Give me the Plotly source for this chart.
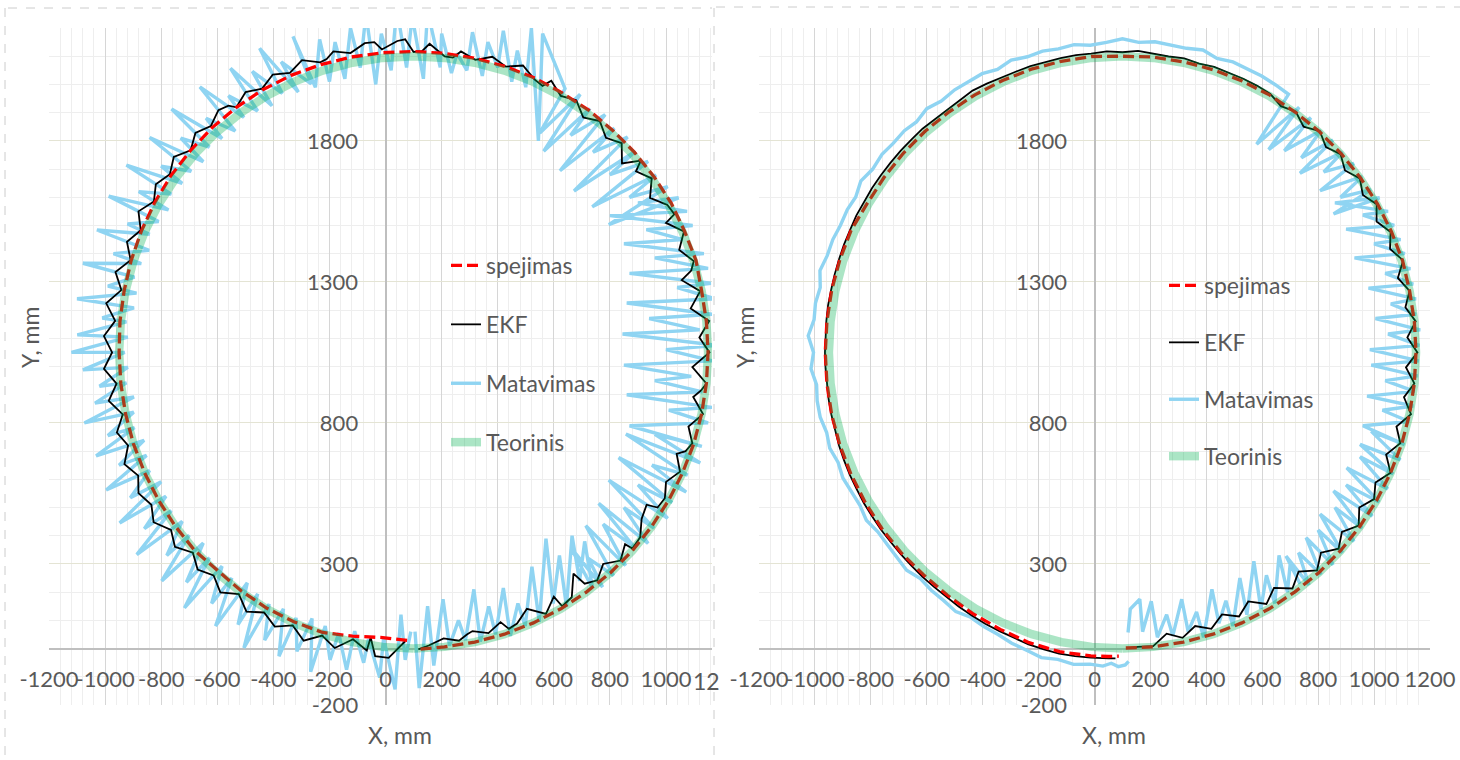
import plotly.graph_objects as go

W, H = 1460, 760
FONT = "Lato"
TXT = "#595959"

# ---------------- data (mm) ----------------
teorinis_pts = [(100,0),(210,6),(318,23),(424,51),(527,91),(625,141),(717,201),(803,270),(880,347),(949,433),
    (1009,525),(1059,623),(1099,726),(1127,832),(1144,940),(1150,1050),(1144,1160),(1127,1268),(1099,1374),
    (1059,1477),(1009,1575),(949,1667),(880,1753),(803,1830),(717,1899),(625,1959),(527,2009),(424,2049),
    (318,2077),(210,2094),(100,2100),(-10,2094),(-118,2077),(-224,2049),(-327,2009),(-425,1959),(-517,1899),
    (-603,1830),(-680,1753),(-749,1667),(-809,1575),(-859,1477),(-899,1374),(-927,1268),(-944,1160),(-950,1050),
    (-944,940),(-927,832),(-899,726),(-859,623),(-809,525),(-749,433),(-680,347),(-603,270),(-517,201),(-425,141),
    (-327,91),(-224,51),(-118,23),(-10,6),(100,0)]

spejimas_left_pts = [(125,-2),(210,6),(318,23),(424,51),(527,91),(625,141),(717,201),(803,270),(880,347),(949,433),
    (1009,525),(1059,623),(1099,726),(1127,832),(1144,940),(1150,1050),(1144,1160),(1127,1268),(1107,1376),
    (1066,1480),(1018,1580),(957,1673),(887,1760),(810,1837),(724,1909),(631,1969),(533,2022),(429,2063),
    (321,2092),(212,2110),(100,2117),(-12,2112),(-122,2097),(-231,2070),(-337,2032),(-438,1981),(-532,1919),
    (-618,1847),(-695,1766),(-764,1678),(-822,1583),(-870,1482),(-907,1376),(-932,1269),(-947,1160),(-950,1050),
    (-944,940),(-927,832),(-899,726),(-859,623),(-809,525),(-749,433),(-680,347),(-600,278),(-515,205),(-423,143),
    (-327,95),(-224,57),(-118,44),(-10,39),(45,34),(77,29)]

spejimas_right_pts = [(112,2),(210,6),(318,23),(424,51),(527,91),(625,141),(717,201),(803,270),(880,347),(949,433),
    (1009,525),(1059,623),(1099,726),(1127,832),(1144,940),(1150,1050),(1144,1160),(1127,1268),(1102,1375),
    (1062,1478),(1012,1577),(951,1669),(882,1755),(805,1832),(719,1901),(627,1962),(528,2012),(425,2052),
    (319,2080),(210,2097),(100,2100),(-11,2099),(-119,2082),(-226,2054),(-329,2014),(-428,1963),(-520,1903),
    (-606,1834),(-684,1756),(-753,1670),(-813,1578),(-871,1482),(-911,1378),(-940,1271),(-957,1161),(-963,1050),
    (-957,939),(-940,829),(-911,722),(-871,618),(-820,518),(-760,425),(-690,338),(-611,261),(-526,189),(-435,124),
    (-337,68),(-234,21),(-125,-11),(-13,-26),(50,-28),(87,-27)]

ekf_left_pts = [(117,-3),(154,11),(207,36),(262,28),(290,50),(310,62),(367,55),(410,94),(440,70),(469,89),(504,141),
    (572,123),(600,184),(630,150),(664,182),(670,266),(710,230),(755,242),(776,300),(838,312),(854,370),(880,355),
    (908,395),(913,460),(931,510),(970,500),(996,533),(1000,591),(1050,627),(1038,690),(1070,700),(1094,728),
    (1080,787),(1132,831),(1097,892),(1125,915),(1144,940),(1094,998),(1155,1050),(1119,1103),(1154,1161),
    (1088,1206),(1122,1267),(1056,1306),(1090,1340),(1099,1374),(1047,1413),(1064,1479),(1000,1509),(1030,1540),
    (1005,1573),(943,1598),(949,1667),(893,1692),(910,1730),(843,1720),(842,1792),(786,1811),(764,1870),(705,1883),
    (680,1944),(625,1959),(591,2013),(560,1995),(531,2018),(490,2067),(429,2063),(381,2098),(320,2087),(269,2117),
    (240,2095),(211,2099),(157,2144),(130,2118),(100,2115),(70,2160),(42,2154),(-13,2124),(-40,2150),(-74,2146),
    (-125,2111),(-186,2117),(-210,2090),(-233,2078),(-298,2086),(-341,2041),(-402,2035),(-440,1985),(-499,1973),
    (-532,1919),(-560,1925),(-596,1909),(-623,1852),(-678,1828),(-695,1766),(-755,1743),(-769,1682),(-819,1646),
    (-826,1585),(-881,1550),(-873,1483),(-922,1442),(-909,1377),(-963,1335),(-942,1271),(-996,1224),(-964,1162),
    (-1004,1108),(-975,1050),(-1004,992),(-959,939),(-987,878),(-937,830),(-958,766),(-918,720),(-931,654),
    (-882,613),(-881,551),(-835,510),(-827,448),(-765,421),(-751,361),(-687,340),(-670,280),(-613,259),(-589,199),
    (-523,193),(-496,131),(-433,128),(-395,78),(-331,82),(-292,28),(-226,46),(-181,2),(-116,33),(-67,-7),(-53,39),
    (-37,-27),(11,-33),(40,-5),(70,26)]

matavimas_left_pts = [(105,60),(120,-140),(150,150),(172,-60),(205,175),(228,10),(260,100),(285,30),(315,210),
    (338,25),(368,150),(392,50),(420,215),(445,45),(472,160),(498,80),(522,290),(548,95),(572,390),(598,160),
    (620,330),(645,150),(665,400),(692,240),(710,380),(738,215),
    (660,359),(774,218),(723,320),(813,259),(714,436),(856,294),(776,441),(887,360),(760,515),(936,373),(850,500),
    (957,427),(796,597),(1006,462),(900,580),(1022,518),(831,677),(1072,555),(950,650),(1077,615),(857,760),
    (1122,658),(960,760),(1128,717),
    (870,790),(1150,800),(1010,845),(1165,855),(860,900),(1130,910),(960,950),(1090,965),(850,1005),(1165,1020),
    (1000,1060),(1180,1075),(845,1115),(1120,1130),(940,1170),(1165,1185),(860,1225),(1175,1240),(1040,1280),
    (1160,1295),(870,1330),(1150,1348),(960,1385),(1135,1400),(850,1435),(1060,1450),(930,1485),(1095,1500),
    (800,1535),(1075,1550),(900,1580),(1045,1598),
    (796,1503),(1006,1638),(870,1600),(965,1679),(737,1566),(936,1727),(800,1680),(891,1763),(672,1622),
    (863,1813),(740,1760),(816,1845),(622,1694),(783,1893),(660,1820),(729,1915),(564,1763),(694,1965),(550,1828),
    (640,1985),
    (560,2180),(545,1800),(520,2200),(500,1990),(470,2120),(450,2010),(420,2190),(400,2060),(365,2150),(345,2030),
    (310,2185),(290,2050),(255,2110),(235,2040),(200,2180),(195,2060),(150,2260),(135,2020),(95,2240),(75,2060),
    (40,2270),(20,2050),(-15,2180),(-35,2000),(-70,2250),(-90,2060),(-125,2200),(-145,2020),(-180,2150),
    (-200,2010),(-235,2160),(-250,1990),
    (-330,2170),(-265,2002),(-372,2080),(-311,1973),(-449,2128),(-368,1968),(-475,2046),(-405,1924),(-553,2057),
    (-456,1906),(-560,1960),(-505,1883),(-662,1991),(-536,1835),(-640,1880),(-583,1808),(-763,1913),(-628,1778),
    (-730,1810),(-650,1726),(-841,1812),(-693,1692),(-800,1710),(-725,1649),(-924,1714),(-764,1611),(-880,1620),
    (-774,1555),(-987,1604),(-809,1514),(-920,1505),(-841,1469),(-1029,1484),(-843,1412),(-970,1400),(-871,1365),
    (-1079,1366),(-895,1317),(-990,1285),(-888,1260),(-1100,1240),(-897,1208),(-1010,1172),(-924,1158),
    (-1099,1112),(-919,1104),(-1120,1050),(-930,1050),
    (-1079,988),(-919,997),(-1020,930),(-924,942),(-1036,870),(-897,892),(-1074,800),(-898,838),(-990,755),
    (-895,783),(-1032,683),(-861,738),(-950,650),(-852,685),(-996,562),(-841,631),(-910,535),(-800,591),(-948,445),
    (-783,540),
    (-860,425),(-764,489),(-887,333),(-725,451),(-780,330),(-700,402),(-798,240),(-650,374),(-710,235),(-628,322),
    (-717,144),(-583,292),(-620,160),(-548,250),(-606,80),(-493,233),(-526,85),(-456,194),(-505,2),(-415,158),
    (-431,30),(-364,141),(-380,-27),(-319,109),(-316,-10),(-262,107),(-267,-82),(-215,80),(-198,-40),(-167,55),
    (-139,-75),(-110,62),(-78,-50),(-61,33),(-21,-103),(-7,36),(34,-145),(55,120),(70,-40),(90,60)]

ekf_right_pts = [(120,2),(155,6),(210,9),(258,53),(315,38),(360,80),(418,70),(456,121),(517,114),(550,167),
    (615,158),(642,215),(708,213),(730,273),(796,277),(810,340),(873,354),(885,414),(945,436),(947,500),(1000,530),
    (1005,589),(1059,623),(1043,688),(1094,728),(1080,787),(1132,831),(1107,891),(1144,940),(1114,997),(1155,1050),
    (1119,1103),(1149,1160),(1112,1210),(1127,1268),(1085,1314),(1104,1376),(1057,1417),(1059,1477),(1009,1514),
    (1009,1575),(960,1608),(949,1667),(896,1695),(880,1753),(828,1778),(806,1834),(748,1850),(720,1903),(667,1923),
    (629,1966),(582,1995),(532,2020),(478,2043),(428,2062),(374,2074),(321,2092),(265,2099),(212,2110),(156,2119),
    (100,2114),(44,2117),(-12,2109),(-66,2104),(-121,2093),(-176,2080),(-229,2065),(-282,2045),(-334,2025),
    (-385,2003),(-436,1978),(-481,1944),(-524,1911),(-570,1879),(-615,1843),(-654,1805),(-693,1765),(-730,1722),
    (-764,1678),(-796,1632),(-825,1584),(-852,1535),(-874,1484),(-896,1432),(-914,1379),(-930,1324),(-942,1271),
    (-953,1217),(-959,1162),(-962,1106),(-964,1050),(-962,994),(-957,939),(-951,884),(-941,829),(-929,776),
    (-914,721),(-896,668),(-875,616),(-851,566),(-825,516),(-795,468),(-764,422),(-729,378),(-693,335),(-655,294),
    (-616,255),(-573,218),(-530,183),(-486,149),(-439,117),(-391,88),(-340,62),(-289,38),(-236,15),(-181,-3),
    (-127,-18),(-70,-27),(-14,-32),(50,-35),(75,-35)]

matavimas_right_pts = [(120,57),(128,140),(162,175),(172,60),(203,168),(225,40),(258,120),(280,45),(312,175),
    (335,60),(365,130),(390,40),(420,210),(445,90),(470,170),(495,80),(520,250),(545,120),(570,310),(595,140),
    (615,260),(645,160),(660,330),(690,200),(700,300),(735,230),
    (685,328),(767,226),(730,340),(810,263),(757,393),(853,297),(800,420),(887,340),(807,477),(928,380),(860,500),
    (957,427),(855,559),(994,470),(900,580),(1018,520),(902,641),(1049,566),(950,680),(1068,619),(950,724),
    (1094,669),(990,770),(1109,723),
    (960,790),(1125,805),(1030,845),(1140,860),(975,895),(1145,912),(1040,950),(1155,967),(990,1005),(1160,1020),
    (985,1060),(1162,1075),(1050,1115),(1165,1130),(1005,1170),(1150,1185),(1060,1222),(1150,1240),(980,1278),
    (1140,1292),(1040,1330),(1130,1347),(930,1385),(1110,1400),(1000,1435),(1095,1450),(900,1487),(1072,1500),
    (960,1537),(1050,1550),(860,1580),(1020,1598),
    (855,1541),(989,1627),(880,1600),(957,1673),(807,1623),(928,1720),(820,1690),(887,1760),(735,1685),(853,1803),
    (740,1740),(810,1837),(679,1765),(774,1882),(623,1769),(732,1919),(580,1788),(694,1965),(648,1998),
    (598,2030),(548,2055),(495,2080),(438,2092),(388,2122),(329,2128),(272,2140),(216,2151),(158,2149),(100,2162),
    (43,2149),(-15,2139),(-73,2141),(-129,2126),(-186,2118),(-240,2098),(-298,2086),(-347,2053),(-402,2038),
    (-453,2007),(-500,1981),(-548,1941),(-600,1914),(-637,1867),(-680,1836),(-721,1790),(-760,1752),(-794,1699),
    (-836,1657),(-854,1601),(-884,1556),(-909,1500),(-936,1450),(-956,1393),(-982,1340),(-981,1280),(-998,1225),
    (-1003,1166),(-1024,1109),(-1005,1050),(-1014,992),(-994,935),(-992,878),(-981,820),(-958,766),(-947,711),
    (-917,660),(-900,605),(-870,560),(-839,508),(-816,455),(-775,414),(-742,370),(-706,324),(-672,278),(-623,248),
    (-584,207),(-539,170),(-496,131),(-443,111),(-396,78),(-345,50),(-296,19),(-243,-6),(-190,-32),(-131,-38),
    (-75,-56),(-16,-55),(30,-62),(60,-52),(85,-64),(110,-58),(122,-45)]

x_tickvals = [-1200, -1000, -800, -600, -400, -200, 0, 200, 400, 600, 800, 1000, 1200]
x_ticktext = ["-1200", "-1000", "-800", "-600", "-400", "-200", "0", "200", "400", "600", "800", "1000", "1200"]
y_tickvals = [-200, 300, 800, 1300, 1800]
y_ticktext = ["-200", "300", "800", "1300", "1800"]

axis_title_x = "X, mm"
axis_title_y = "Y, mm"


def xs(pts):
    return [p[0] for p in pts]


def ys(pts):
    return [p[1] for p in pts]


# ---------------- layout geometry (pixels) ----------------
L_DOM = [49 / W, 712 / W]
R_DOM = [759 / W, 1430 / W]
Y_DOM = [1 - 705 / H, 1 - 28 / H]
L_RANGE = [-1200, 1164]
R_RANGE = [-1200, 1200]
Y_RANGE = [-200, 2200]


def pos_at_zero(dom, rng):
    return dom[0] + (0 - rng[0]) / (rng[1] - rng[0]) * (dom[1] - dom[0])


fig = go.Figure()


def add_panel(xa, ya, leg, tag, mat, ekf, spe, teo):
    fig.add_trace(go.Scatter(x=xs(mat), y=ys(mat), mode="lines", name="Matavimas", xaxis=xa, yaxis=ya,
                             legend=leg, legendgroup="m" + tag, legendrank=3,
                             line=dict(color="#8fd4f2", width=3.4)))
    fig.add_trace(go.Scatter(x=xs(ekf), y=ys(ekf), mode="lines", name="EKF", xaxis=xa, yaxis=ya,
                             legend=leg, legendgroup="e" + tag, legendrank=2,
                             line=dict(color="#000000", width=1.8)))
    fig.add_trace(go.Scatter(x=xs(spe), y=ys(spe), mode="lines", name="spejimas", xaxis=xa, yaxis=ya,
                             legend=leg, legendgroup="s" + tag, legendrank=1,
                             line=dict(color="#ff0000", width=3.3, dash="11px,5px")))
    fig.add_trace(go.Scatter(x=xs(teo), y=ys(teo), mode="lines", name="Teorinis", xaxis=xa, yaxis=ya,
                             legend=leg, legendgroup="t" + tag, legendrank=4,
                             line=dict(color="rgba(0,176,80,0.33)", width=8.5)))


add_panel("x", "y", "legend", "L", matavimas_left_pts, ekf_left_pts, spejimas_left_pts, teorinis_pts)
add_panel("x2", "y2", "legend2", "R", matavimas_right_pts, ekf_right_pts, spejimas_right_pts, teorinis_pts)

tickfont = dict(family=FONT, size=22, color=TXT)


def xaxis_cfg(dom, rng):
    return dict(domain=dom, range=rng, anchor="free", position=pos_at_zero(Y_DOM, Y_RANGE), side="bottom",
                tickmode="array", tickvals=x_tickvals, ticktext=x_ticktext, tickangle=0,
                ticks="outside", ticklen=11, tickcolor="rgba(0,0,0,0)", tickfont=tickfont, automargin=False,
                showgrid=True, gridcolor="#d6d6d6", gridwidth=1.2,
                minor=dict(tickmode="linear", tick0=-1200, dtick=40, showgrid=True, gridcolor="#eeeeee",
                           gridwidth=1, ticks=""),
                zeroline=True, zerolinecolor="#bfbfbf", zerolinewidth=1.5, showline=False, fixedrange=True)


def yaxis_cfg(xdom, xrng):
    return dict(domain=Y_DOM, range=Y_RANGE, anchor="free", position=pos_at_zero(xdom, xrng), side="left",
                tickmode="array", tickvals=y_tickvals, ticktext=y_ticktext,
                ticks="outside", ticklen=23, tickcolor="rgba(0,0,0,0)", tickfont=tickfont, automargin=False,
                showgrid=True, gridcolor="#e4e4d4", gridwidth=1.2,
                minor=dict(tickmode="linear", tick0=-200, dtick=100, showgrid=True, gridcolor="#eeeeee",
                           gridwidth=1.2, ticks=""),
                zeroline=True, zerolinecolor="#bfbfbf", zerolinewidth=1.5, showline=False, fixedrange=True)


legfont = dict(family=FONT, size=23, color=TXT)

fig.update_layout(
    width=W, height=H, margin=dict(l=0, r=0, t=0, b=0, pad=0, autoexpand=False),
    paper_bgcolor="white", plot_bgcolor="white",
    font=dict(family=FONT, color=TXT),
    xaxis=xaxis_cfg(L_DOM, L_RANGE), yaxis=yaxis_cfg(L_DOM, L_RANGE),
    xaxis2=xaxis_cfg(R_DOM, R_RANGE), yaxis2=yaxis_cfg(R_DOM, R_RANGE),
    legend=dict(x=446 / W, y=1 - 244 / H, xanchor="left", yanchor="top", font=legfont,
                tracegroupgap=26, bgcolor="rgba(0,0,0,0)", itemwidth=30),
    legend2=dict(x=1164 / W, y=1 - 264 / H, xanchor="left", yanchor="top", font=legfont,
                 tracegroupgap=24, bgcolor="rgba(0,0,0,0)", itemwidth=30),
    showlegend=True,
)

annos = [
    dict(x=400 / W, y=1 - 735 / H, text=axis_title_x),
    dict(x=1114 / W, y=1 - 735 / H, text=axis_title_x),
    dict(x=30 / W, y=1 - 338 / H, text=axis_title_y, textangle=-90),
    dict(x=745 / W, y=1 - 338 / H, text=axis_title_y, textangle=-90),
    dict(x=706 / W, y=1 - 681 / H, text="12"),
]
for a in annos:
    fig.add_annotation(xref="paper", yref="paper", showarrow=False, xanchor="center", yanchor="middle",
                       font=dict(family=FONT, size=23, color=TXT), **a)

border = dict(color="#cccccc", width=1, dash="dash")
for (x0, y0, x1, y1) in [(8, 8, 712, 8), (5, 8, 5, 760), (714, 8, 714, 760), (716, 7, 1460, 7)]:
    fig.add_shape(type="line", xref="paper", yref="paper", x0=x0 / W, y0=1 - y0 / H, x1=x1 / W, y1=1 - y1 / H,
                  line=border)

fig.write_html("out.html", config={"displayModeBar": False},
               post_script="document.body.style.margin='0';document.body.style.overflow='hidden';")
